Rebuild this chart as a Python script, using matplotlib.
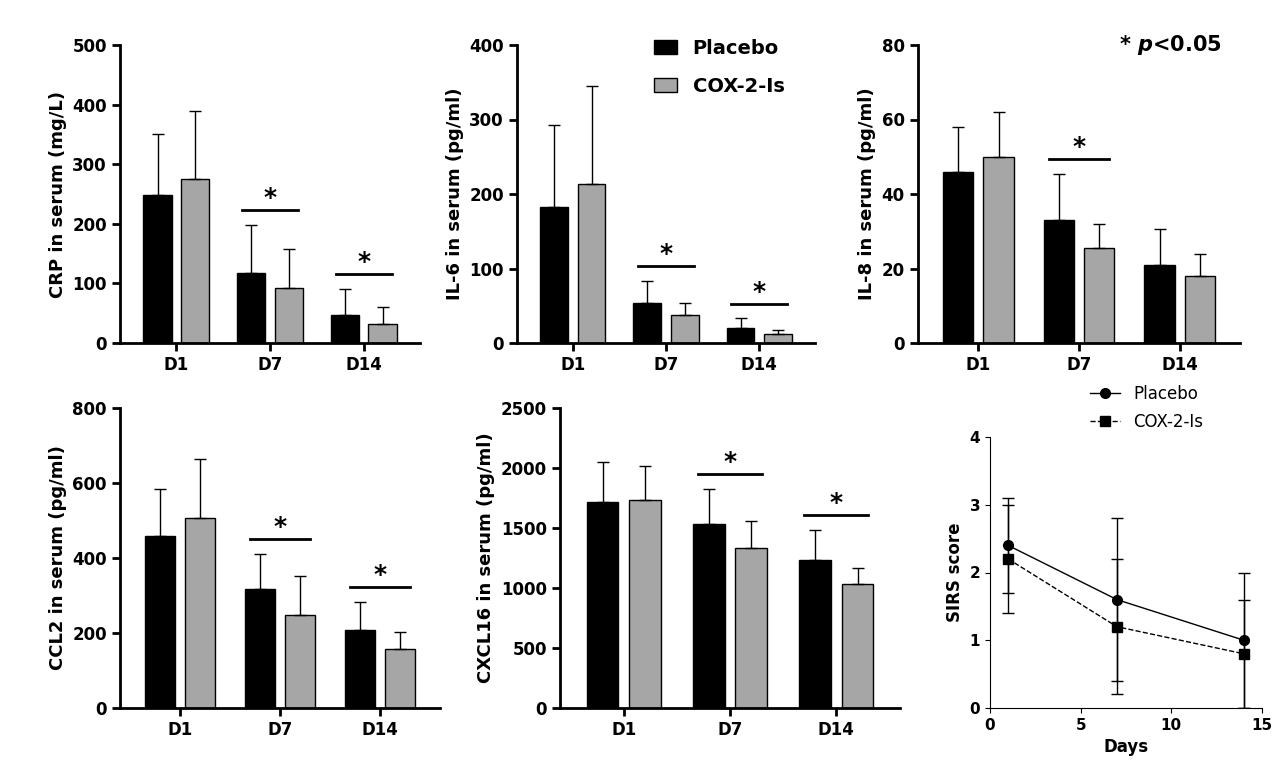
import matplotlib
matplotlib.use("Agg")
import matplotlib.pyplot as plt
from matplotlib.lines import Line2D
import numpy as np

days = ["D1", "D7", "D14"]

crp_p = [248, 117, 47];       crp_p_sd = [102, 81, 43]
crp_c = [275, 92, 32];        crp_c_sd = [115, 65, 28]
il6_p = [182, 54, 20];        il6_p_sd = [111, 29, 13]
il6_c = [213, 37, 12];        il6_c_sd = [132, 17, 6]
il8_p = [46, 33, 21];         il8_p_sd = [12, 12.5, 9.5]
il8_c = [50, 25.5, 18];       il8_c_sd = [12, 6.5, 6]
ccl2_p = [460, 318, 207];     ccl2_p_sd = [125, 92, 76]
ccl2_c = [508, 248, 158];     ccl2_c_sd = [157, 104, 45]
cx_p = [1720, 1530, 1230];    cx_p_sd = [330, 295, 250]
cx_c = [1730, 1335, 1035];    cx_c_sd = [290, 220, 135]

sirs_days = [1, 7, 14]
sirs_p = [2.4, 1.6, 1.0];     sirs_p_sd = [0.7, 1.2, 1.0]
sirs_c = [2.2, 1.2, 0.8];     sirs_c_sd = [0.8, 1.0, 0.8]

W, H = 1280, 783
fig = plt.figure(figsize=(W / 100, H / 100), dpi=100)


def box(x0, y0, x1, y1):
    return [x0 / W, 1 - y1 / H, (x1 - x0) / W, (y1 - y0) / H]


def style(ax):
    for s in ["top", "right"]:
        ax.spines[s].set_visible(False)
    for s in ["left", "bottom"]:
        ax.spines[s].set_linewidth(2)
    ax.tick_params(width=2, length=6, labelsize=12)
    for lab in ax.get_xticklabels() + ax.get_yticklabels():
        lab.set_fontweight("bold")


def bars(rect, p, psd, c, csd, ymax, ystep, ylabel, sig):
    ax = fig.add_axes(box(*rect))
    x = np.arange(3)
    w = 0.3
    ax.bar(x - 0.2, p, w, color="black", edgecolor="black", label="Placebo")
    ax.bar(x + 0.2, c, w, color="#a6a6a6", edgecolor="black", label="COX-2-Is")
    ax.errorbar(x - 0.2, p, yerr=[np.zeros(3), psd], fmt="none", ecolor="black", capsize=4, lw=1)
    ax.errorbar(x + 0.2, c, yerr=[np.zeros(3), csd], fmt="none", ecolor="black", capsize=4, lw=1)
    for i in sig:
        y = (p[i] + psd[i]) + ymax * 0.05
        ax.plot([i - 0.3, i + 0.3], [y, y], color="black", lw=2)
        ax.text(i, y, "*", ha="center", va="bottom", fontsize=18, fontweight="bold")
    ax.set_xlim(-0.6, 2.6)
    ax.set_ylim(0, ymax)
    ax.set_yticks(np.arange(0, ymax + 1, ystep))
    ax.set_xticks(x)
    ax.set_xticklabels(days)
    ax.set_ylabel(ylabel, fontsize=13, fontweight="bold")
    style(ax)
    return ax


bars((120, 45, 420, 343), crp_p, crp_p_sd, crp_c, crp_c_sd, 500, 100, "CRP in serum (mg/L)", [1, 2])
ax_il6 = bars((517, 45, 815, 343), il6_p, il6_p_sd, il6_c, il6_c_sd, 400, 100, "IL-6 in serum (pg/ml)", [1, 2])
bars((918, 45, 1240, 343), il8_p, il8_p_sd, il8_c, il8_c_sd, 80, 20, "IL-8 in serum (pg/ml)", [1])
bars((120, 408, 440, 708), ccl2_p, ccl2_p_sd, ccl2_c, ccl2_c_sd, 800, 200, "CCL2 in serum (pg/ml)", [1, 2])
bars((560, 408, 900, 708), cx_p, cx_p_sd, cx_c, cx_c_sd, 2500, 500, "CXCL16 in serum (pg/ml)", [1, 2])

ax_il6.legend(loc="upper left", bbox_to_anchor=(0.4, 1.08), frameon=False,
              prop={"size": 14, "weight": "bold"}, handlelength=1.2, labelspacing=1.0)
fig.text(1170 / W, 1 - 45 / H, "* $\\boldsymbol{p}$<0.05", fontsize=15, fontweight="bold",
         ha="center", va="center")

ax = fig.add_axes(box(990, 437, 1262, 708))
ax.errorbar(sirs_days, sirs_p, yerr=sirs_p_sd, color="black", marker="o", ms=7,
            lw=1, capsize=4, elinewidth=1)
ax.errorbar(sirs_days, sirs_c, yerr=sirs_c_sd, color="black", marker="s", ms=7,
            lw=1, ls="--", capsize=4, elinewidth=1)
ax.set_xlim(0, 15)
ax.set_ylim(0, 4)
ax.set_xticks([0, 5, 10, 15])
ax.set_yticks([0, 1, 2, 3, 4])
ax.set_xlabel("Days", fontsize=12, fontweight="bold")
ax.set_ylabel("SIRS score", fontsize=12, fontweight="bold")
for s in ["top", "right"]:
    ax.spines[s].set_visible(False)
ax.tick_params(labelsize=11)
for lab in ax.get_xticklabels() + ax.get_yticklabels():
    lab.set_fontweight("bold")
handles = [Line2D([], [], color="black", marker="o", ms=7, lw=1),
           Line2D([], [], color="black", marker="s", ms=7, lw=1, ls="--")]
fig.legend(handles, ["Placebo", "COX-2-Is"], loc="upper left",
           bbox_to_anchor=(1075 / W, 1 - 370 / H), frameon=False, fontsize=12,
           handlelength=1.8, labelspacing=0.6)

fig.savefig("out.png", dpi=100)
